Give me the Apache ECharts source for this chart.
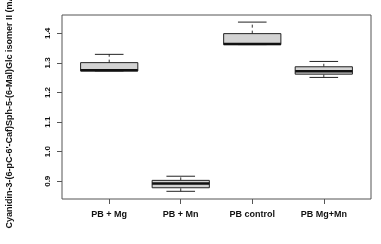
<!DOCTYPE html>
<html>
<head>
<meta charset="utf-8">
<script src="https://cdn.jsdelivr.net/npm/echarts@6/dist/echarts.min.js"></script>
<style>
html, body { margin: 0; padding: 0; background: #fff; }
#main { width: 381px; height: 244px; }
</style>
</head>
<body>
<div id="main"></div>
<script>
// box statistics per treatment
var categories = ['PB + Mg', 'PB + Mn', 'PB control', 'PB Mg+Mn'];
var whiskerLow  = [1.273, 0.866, 1.362, 1.251];
var q1          = [1.273, 0.878, 1.362, 1.262];
var median      = [1.275, 0.892, 1.364, 1.272];
var q3          = [1.301, 0.903, 1.399, 1.287];
var whiskerHigh = [1.329, 0.917, 1.438, 1.305];
var yTicks = [0.9, 1.0, 1.1, 1.2, 1.3, 1.4];

var boxData = categories.map(function (c, i) {
	return [i + 1, whiskerLow[i], q1[i], median[i], q3[i], whiskerHigh[i]];
});

var myChart = echarts.init(document.getElementById('main'));
var option = {
	animation: false,
	backgroundColor: '#fff',
	grid: {
		left: 62, right: 10, top: 15, bottom: 45,
		outerBoundsMode: 'none',
		containLabel: false,
		show: true,
		borderColor: '#555',
		borderWidth: 1
	},
	xAxis: {
		type: 'value',
		min: 0.34,
		max: 4.66,
		splitLine: { show: false },
		axisLine: { show: false },
		axisTick: {
			show: true,
			length: 5,
			customValues: [1, 2, 3, 4],
			lineStyle: { color: '#555' }
		},
		axisLabel: {
			customValues: [1, 2, 3, 4],
			margin: 11,
			color: '#111',
			fontFamily: 'Liberation Sans',
			fontWeight: 'bold',
			fontSize: 9,
			formatter: function (v) { return categories[Math.round(v) - 1]; }
		}
	},
	yAxis: {
		type: 'value',
		min: 0.84,
		max: 1.462,
		name: "Cyanidin-3-(6-pC-6'-Caf)Sph-5-(6-Mal)Glc isomer II (mAU)",
		nameLocation: 'middle',
		nameRotate: 90,
		nameGap: 48,
		nameTextStyle: {
			color: '#111',
			fontFamily: 'Liberation Sans',
			fontWeight: 'bold',
			fontSize: 9
		},
		splitLine: { show: false },
		axisLine: { show: false },
		axisTick: {
			show: true,
			length: 5,
			customValues: yTicks,
			lineStyle: { color: '#555' }
		},
		axisLabel: {
			customValues: yTicks,
			rotate: 90,
			margin: 10,
			color: '#111',
			fontFamily: 'Liberation Sans',
			fontWeight: 'bold',
			fontSize: 8,
			formatter: function (v) { return v.toFixed(1); }
		}
	},
	series: [{
		type: 'custom',
		data: boxData,
		encode: { x: 0, y: [1, 2, 3, 4, 5] },
		renderItem: function (params, api) {
			var x = api.value(0);
			var boxW = api.size([0.8, 0])[0];
			var capW = api.size([0.4, 0])[0];
			var pLow = api.coord([x, api.value(1)]);
			var pQ1 = api.coord([x, api.value(2)]);
			var pMed = api.coord([x, api.value(3)]);
			var pQ3 = api.coord([x, api.value(4)]);
			var pHigh = api.coord([x, api.value(5)]);
			var cx = pMed[0];
			var lineStyle = { stroke: '#222', lineWidth: 1 };
			return {
				type: 'group',
				children: [
					{ type: 'line', shape: { x1: cx, y1: pQ3[1], x2: cx, y2: pHigh[1] },
						style: { stroke: '#333', lineWidth: 1, lineDash: [3, 3] } },
					{ type: 'line', shape: { x1: cx, y1: pLow[1], x2: cx, y2: pQ1[1] },
						style: { stroke: '#333', lineWidth: 1, lineDash: [3, 3] } },
					{ type: 'line', shape: { x1: cx - capW / 2, y1: pHigh[1], x2: cx + capW / 2, y2: pHigh[1] },
						style: lineStyle },
					{ type: 'line', shape: { x1: cx - capW / 2, y1: pLow[1], x2: cx + capW / 2, y2: pLow[1] },
						style: lineStyle },
					{ type: 'rect', shape: { x: cx - boxW / 2, y: pQ3[1], width: boxW, height: pQ1[1] - pQ3[1] },
						style: { fill: '#d3d3d3', stroke: '#222', lineWidth: 1 } },
					{ type: 'line', shape: { x1: cx - boxW / 2, y1: pMed[1], x2: cx + boxW / 2, y2: pMed[1] },
						style: { stroke: '#111', lineWidth: 2.5 } }
				]
			};
		}
	}]
};
myChart.setOption(option, true);
</script>
</body>
</html>
